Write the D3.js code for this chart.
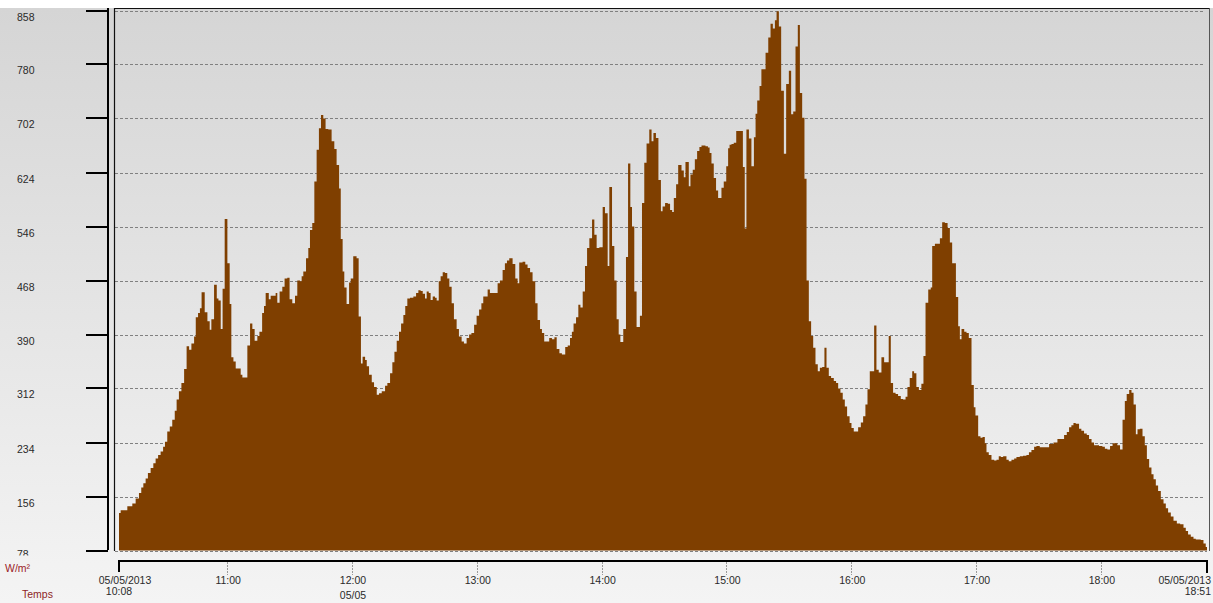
<!DOCTYPE html>
<html>
<head>
<meta charset="utf-8">
<script src="https://cdn.jsdelivr.net/npm/d3@7"></script>
<style>
  body { margin: 0; background: #fff; }
  svg { display: block; font-family: "Liberation Sans", Arial, sans-serif; }
</style>
</head>
<body>
<svg id="chart" width="1213" height="603"></svg>
<script>
// Solar irradiance log, 05/05/2013 10:08 – 18:51
const startStamp = "2013-05-05 10:08";
const endStamp = "2013-05-05 18:51";

// Sample times, in minutes after the start of the log
const sampleMinutes = [
  0, 0.8, 4, 6.4, 8, 9.6, 10.7, 11.7, 12.8, 13.9, 15.2, 16.5, 17.6, 18.8, 20, 21.2, 22.1, 23.2, 24.4, 25.6,
  26.8, 27.7, 28.8, 30, 31.3, 32.5, 33.7, 34.8, 36.1, 36.9, 38, 38.9, 39.7, 41.2, 42.5, 43.6, 44.4, 45.7, 47, 47.8,
  48.9, 49.8, 50.8, 52.1, 53.2, 54, 55, 56.1, 58.5, 59.3, 61.7, 63, 64.1, 65.2, 66.5, 67.5, 68.8, 69.7, 70.5, 72,
  72.9, 75.3, 76.1, 77.2, 78.5, 79.6, 80.9, 82, 83.3, 84.6, 85.7,
  87, 87.8, 88.6, 89.9, 91, 91.8, 92.9, 93.9, 95, 96.1, 97.1, 98.2, 99.3, 100.6, 102.2, 103.5, 104.6, 105.8, 106.6, 107.5,
  108.3, 109.4, 110.6, 111.4, 112.6, 114.2, 115.2, 116.3, 117.1, 118.3, 119.1, 120.2, 121.5, 122.6, 123.9, 125, 126.3, 127.9, 129, 130.3,
  131.4, 132.4, 133.5, 134.6, 135.6, 136.7, 137.6, 138.6, 139.9, 141.5, 142.8, 143.9, 145, 146, 147.1, 147.9, 148.9, 149.8, 150.8, 151.9,
  152.7, 153.7, 154.6, 155.6, 156.7, 157.8, 158.8, 159.9, 161, 162.3, 163.4, 164.7, 165.8, 167.1, 168.3, 169.4, 170.7, 171.9, 173.1, 174.2, 175.1,
  176.4, 177.2, 178.3, 182, 183.1, 184.4, 185.5, 186.5, 187.6, 189.2, 190.5, 191.6, 192.4, 194, 195.3, 196.4, 197.6, 198.8, 200.1, 201.2,
  202.4, 203.3, 204.4, 206.8, 208.1, 209.3, 210.4, 211.7, 212.9, 214.5, 215.7, 216.8, 217.7, 218.5, 219.7, 220.8, 221.8, 222.9, 224, 225,
  226.1, 227.4, 228.5, 229.6, 230.9, 232.5, 233.6, 234.9, 235.7, 237, 238.1, 239.2, 240.2, 241, 242.4, 243.7, 244.7, 245.8, 246.6, 247.7,
  248.8, 250.4, 251.4, 252.5, 253.6, 254.9, 256, 256.9, 258.1, 259.3, 260.5, 261.3, 262.5, 263.8, 264.9,
  265.9, 266.7, 267.8, 268.8, 270.4, 271.5, 272.3, 273.9, 274.7, 275.8, 276.8, 277.9, 279, 280, 281.9, 283.1, 283.9, 284.8, 285.9, 287,
  288, 289.6, 290.7, 291.9, 292.8, 293.5, 294.4, 295.5, 296.7, 299.9, 300.8, 301.6, 302.8, 304, 305.2, 306, 306.8, 307.9, 308.8, 310.8,
  312.1, 313.2, 314.3, 315.3, 316.1, 317.2, 318.3, 319.6, 320.7, 322, 323.1, 324.1, 325.2, 326.3, 327.3, 328.4, 329.5, 330.5, 331.6, 332.7,
  333.7, 334.8, 335.9, 336.9, 338, 339.1, 340.1, 341.2, 342.3, 343.6, 344.7, 345.7, 346.8, 347.9, 348.9, 350, 351.2, 352.1, 353.2,
  355.3, 356.6, 357.7, 358.8, 359.8, 360.9, 363, 364.1, 365.2, 366.5, 367.8, 370, 371, 372.1, 373.3, 374.5, 375.8, 376.9, 378.1, 379,
  380.1, 381.3, 382.2, 383.3, 384.5, 385.7, 386.7, 387.7, 389, 390.2, 390.9, 392.2, 394.6, 395.7, 397, 398.3, 399.4, 400.5, 402.3, 403.4,
  404.2, 405, 406.3, 407.4, 408.5, 409.8, 410.9, 411.7, 413, 414.1, 415.1, 416.2, 417, 418.1, 419.4, 420.7, 421.8, 422.9, 423.9, 425,
  426.6, 427.7, 429, 430.3, 431.4, 433, 434.6, 436.2, 437.4, 438.6, 439.9, 441, 442.6,
  444.7, 447.1, 449.2, 451.1, 454.3, 455.6, 456.7, 457.8, 458.8, 459.9, 461.5, 462.6, 463.9, 465.2, 466.3, 467.5, 468.7, 471.1, 472.7, 473.9,
  475.1, 476.4, 477.6, 479.9, 481.2, 482.4, 483.5, 484.4, 485.6, 486.7, 487.7, 488.8, 489.6, 490.7, 492, 493.1, 494.1, 495.2, 496.3, 497.3,
  498.4, 499.5, 500.8, 502.1, 503.2, 504.3, 505.6, 506.9, 508.5, 510.1, 511.7, 512.8, 513.9, 515.2, 516.5, 517.6, 520, 521.3, 522.4, 523
];

// Global irradiance (W/m²) at each sample time
const irradiance = [
  132, 136, 142, 146, 153, 161, 169, 175, 182, 190, 197, 204, 211, 216, 221, 228, 235, 250, 257, 267,
  280, 296, 308, 320, 340, 373, 368, 377, 387, 415, 421, 428, 451, 422, 409, 397, 412, 462, 442, 439,
  398, 456, 557, 493, 434, 357, 351, 341, 332, 328, 374, 406, 398, 381, 388, 394, 421, 431, 450, 441,
  446, 450, 436, 452, 459, 471, 472, 441, 435, 446, 468,
  467, 474, 481, 500, 515, 541, 551, 611, 657, 688, 707, 702, 687, 686, 669, 658, 635, 601, 528, 481,
  458, 434, 465, 471, 503, 500, 416, 348, 358, 353, 344, 332, 321, 314, 303, 305, 308, 316, 320, 334,
  350, 365, 381, 394, 406, 418, 431, 442, 443, 445, 450, 454, 453, 449, 442, 452, 450, 440, 445, 443,
  439, 467, 474, 480, 479, 471, 459, 435, 412, 398, 387, 380, 377, 385, 390, 392, 404, 417, 426, 435, 445,
  445, 455, 450, 464, 468, 483, 493, 497, 500, 492, 471, 464, 494, 495, 491, 486, 480, 467, 435, 411,
  398, 392, 380, 385, 383, 386, 369, 363, 361, 372, 374, 385, 394, 406, 415, 433, 429, 452, 489, 515,
  529, 556, 534, 515, 516, 574, 565, 489, 603, 518, 468, 412, 390, 379, 398, 502, 637, 574, 546, 452,
  401, 417, 580, 638, 666, 686, 669, 681, 674, 613, 568, 575, 580, 579, 570,
  567, 587, 607, 635, 627, 617, 639, 604, 621, 628, 643, 655, 661, 663, 662, 660, 652, 637, 616, 598,
  587, 602, 611, 633, 659, 664, 665, 667, 684, 632, 543, 686, 673, 633, 675, 709, 728, 749, 773, 797,
  819, 839, 832, 844, 857, 835, 742, 651, 752, 771, 708, 712, 806, 837, 739, 703, 615, 468, 409, 388,
  371, 347, 337, 342, 343, 371, 342, 330, 327, 323, 320, 312, 306, 296, 286, 272, 262, 255, 250,
  256, 263, 272, 289, 311, 337, 403, 339, 335, 357, 350, 388, 320, 306, 304, 301, 297, 296, 300, 314,
  327, 337, 334, 314, 310, 319, 359, 436, 455, 458, 518, 521, 529, 552, 551, 544, 523, 493, 444, 402,
  383, 398, 394, 392, 385, 317, 285, 273, 243, 241, 242, 233, 220, 216, 209, 208, 209, 214, 213, 214,
  209, 207, 209, 211, 213, 214, 215, 216, 220, 223, 228, 229, 227,
  227, 232, 234, 239, 245, 249, 256, 259, 262, 261, 254, 251, 247, 245, 239, 234, 230, 229, 228, 225,
  224, 229, 233, 230, 224, 267, 294, 304, 310, 306, 289, 246, 253, 254, 243, 230, 210, 198, 188, 181,
  172, 164, 152, 146, 139, 133, 127, 121, 117, 116, 111, 106, 101, 98, 95, 94, 93, 88, 83, 83
];

const yTickValues = [78, 156, 234, 312, 390, 468, 546, 624, 702, 780, 858];
const hourTicks = ["11:00", "12:00", "13:00", "14:00", "15:00", "16:00", "17:00", "18:00"];
const dayLabel = "05/05";
const startLabels = ["05/05/2013", "10:08"];
const endLabels = ["05/05/2013", "18:51"];
const unitLabel = "W/m²";
const timeLabel = "Temps";

const parseStamp = d3.timeParse("%Y-%m-%d %H:%M");
const t0 = parseStamp(startStamp);
const t1 = parseStamp(endStamp);

const data = sampleMinutes.map((m, i) => ({
  t: new Date(t0.getTime() + m * 60000),
  v: irradiance[i]
}));

const svg = d3.select("#chart");
const W = 1213, H = 603;

const plot = { left: 114, right: 1209, top: 8, bottom: 551 };

const x = d3.scaleTime().domain([t0, t1]).range([119, 1207]);
const y = d3.scaleLinear().domain([78, 858]).range([550.5, 10.5]);

// Background: soft vertical grey gradient
const defs = svg.append("defs");
const grad = defs.append("linearGradient")
  .attr("id", "bg").attr("x1", 0).attr("y1", 0).attr("x2", 0).attr("y2", 1);
grad.append("stop").attr("offset", "0%").attr("stop-color", "#d5d5d5");
grad.append("stop").attr("offset", "100%").attr("stop-color", "#f4f4f4");

svg.append("rect").attr("x", 0).attr("y", 0).attr("width", W).attr("height", H).attr("fill", "#fff");
svg.append("rect").attr("x", 0).attr("y", 8).attr("width", W).attr("height", H - 8).attr("fill", "url(#bg)");

// Horizontal dashed grid lines
const grid = svg.append("g");
grid.selectAll("line")
  .data(yTickValues.filter(v => v !== 78))
  .join("line")
  .attr("x1", 115).attr("x2", 1203)
  .attr("y1", d => Math.round(y(d)) + 0.5)
  .attr("y2", d => Math.round(y(d)) + 0.5)
  .attr("stroke", "#808080")
  .attr("stroke-width", 1)
  .attr("stroke-dasharray", "3,2");

// Irradiance area (stepped)
const area = d3.area()
  .x(d => x(d.t))
  .y0(y(78))
  .y1(d => y(d.v))
  .curve(d3.curveStepAfter);

svg.append("path")
  .datum(data)
  .attr("d", area)
  .attr("fill", "#7f3f00");

// Baseline grid line drawn over the area
svg.append("line")
  .attr("x1", 115).attr("x2", 1207)
  .attr("y1", Math.round(y(78)) + 0.5).attr("y2", Math.round(y(78)) + 0.5)
  .attr("stroke", "#808080").attr("stroke-width", 1).attr("stroke-dasharray", "3,2");

// Plot frame
svg.append("line").attr("x1", plot.left).attr("x2", plot.right + 1)
  .attr("y1", plot.top + 0.5).attr("y2", plot.top + 0.5)
  .attr("stroke", "#111").attr("stroke-width", 1);
svg.append("line").attr("x1", plot.left + 0.5).attr("x2", plot.left + 0.5)
  .attr("y1", plot.top).attr("y2", plot.bottom)
  .attr("stroke", "#111").attr("stroke-width", 1.2);
svg.append("line").attr("x1", plot.right + 0.5).attr("x2", plot.right + 0.5)
  .attr("y1", plot.top).attr("y2", plot.bottom)
  .attr("stroke", "#555").attr("stroke-width", 1);

// Y axis: thick spine with long ticks to its left
const yAxis = svg.append("g");
yAxis.append("line")
  .attr("x1", 108).attr("x2", 108).attr("y1", 8).attr("y2", 550)
  .attr("stroke", "#000").attr("stroke-width", 2);
yAxis.selectAll("line.tick")
  .data(yTickValues)
  .join("line")
  .attr("class", "tick")
  .attr("x1", 86).attr("x2", 108)
  .attr("y1", d => Math.round(y(d)))
  .attr("y2", d => Math.round(y(d)))
  .attr("stroke", "#000").attr("stroke-width", 2);

// Labels sit just below their tick; the lowest one is lifted and cut by the axis band
defs.append("clipPath").attr("id", "ylabClip")
  .append("rect").attr("x", 0).attr("y", 0).attr("width", 80).attr("height", 555.5);

yAxis.append("g").attr("clip-path", "url(#ylabClip)")
  .selectAll("text")
  .data(yTickValues)
  .join("text")
  .attr("x", 17)
  .attr("y", d => d === 78 ? Math.round(y(d)) + 7 : Math.round(y(d)) + 10)
  .attr("font-size", "10.5px")
  .attr("fill", "#2a2a2a")
  .text(d => d);

// X axis
const xAxis = svg.append("g");
xAxis.append("line")
  .attr("x1", 118).attr("x2", 1208).attr("y1", 561).attr("y2", 561)
  .attr("stroke", "#000").attr("stroke-width", 2);
xAxis.append("line")
  .attr("x1", x(t0)).attr("x2", x(t0)).attr("y1", 560).attr("y2", 572)
  .attr("stroke", "#000").attr("stroke-width", 2);
xAxis.append("line")
  .attr("x1", x(t1)).attr("x2", x(t1)).attr("y1", 560).attr("y2", 573)
  .attr("stroke", "#000").attr("stroke-width", 2);

const hourDates = hourTicks.map(h => parseStamp("2013-05-05 " + h));
xAxis.selectAll("line.hour")
  .data(hourDates)
  .join("line")
  .attr("class", "hour")
  .attr("x1", d => Math.round(x(d)) + 0.5).attr("x2", d => Math.round(x(d)) + 0.5)
  .attr("y1", 562).attr("y2", 575)
  .attr("stroke", "#9a9a9a").attr("stroke-width", 1).attr("stroke-dasharray", "2,1");

xAxis.selectAll("text.hour")
  .data(hourDates)
  .join("text")
  .attr("class", "hour")
  .attr("x", d => x(d) + 1)
  .attr("y", 584)
  .attr("text-anchor", "middle")
  .attr("font-size", "10.5px")
  .attr("fill", "#2a2a2a")
  .text((d, i) => hourTicks[i]);

// Day label under the noon tick
xAxis.append("text")
  .attr("x", x(hourDates[1]) + 1).attr("y", 599)
  .attr("text-anchor", "middle").attr("font-size", "10.5px").attr("fill", "#2a2a2a")
  .text(dayLabel);

// Start and end stamps
xAxis.append("text").attr("x", 125).attr("y", 584)
  .attr("text-anchor", "middle").attr("font-size", "10.5px").attr("fill", "#2a2a2a")
  .text(startLabels[0]);
xAxis.append("text").attr("x", 119).attr("y", 595)
  .attr("text-anchor", "middle").attr("font-size", "10.5px").attr("fill", "#2a2a2a")
  .text(startLabels[1]);
xAxis.append("text").attr("x", 1211).attr("y", 584)
  .attr("text-anchor", "end").attr("font-size", "10.5px").attr("fill", "#2a2a2a")
  .text(endLabels[0]);
xAxis.append("text").attr("x", 1211).attr("y", 595)
  .attr("text-anchor", "end").attr("font-size", "10.5px").attr("fill", "#2a2a2a")
  .text(endLabels[1]);

// Axis titles
svg.append("text").attr("x", 5).attr("y", 572)
  .attr("font-size", "10.5px").attr("fill", "#9a1c28")
  .text(unitLabel);
svg.append("text").attr("x", 22).attr("y", 598)
  .attr("font-size", "10.5px").attr("fill", "#8e1f1f")
  .text(timeLabel);
</script>
</body>
</html>
